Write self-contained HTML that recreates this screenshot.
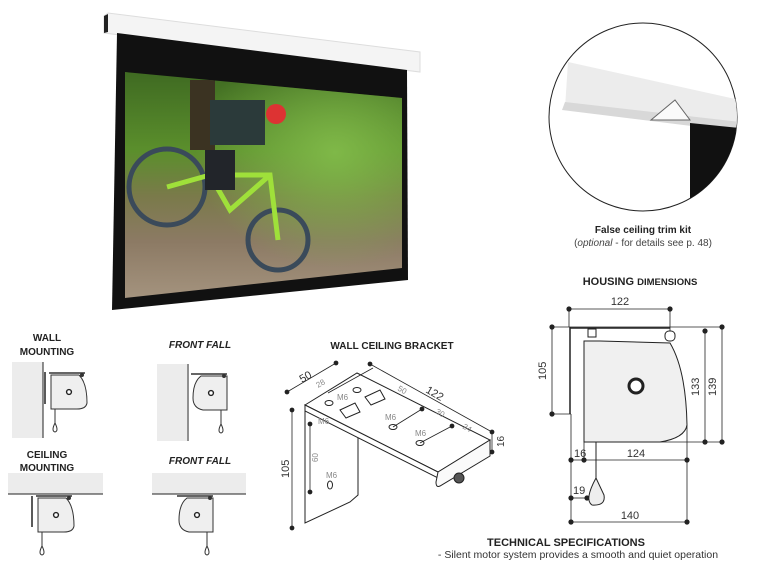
<!DOCTYPE html>
<html><head><meta charset="utf-8"><style>
body{margin:0;background:#fff;width:772px;height:579px;overflow:hidden}
svg{display:block;font-family:"Liberation Sans",sans-serif}
</style></head><body>
<svg width="772" height="579" viewBox="0 0 772 579">
<defs>
<linearGradient id="ph" x1="0" y1="0" x2="0" y2="1">
<stop offset="0" stop-color="#3f6a22"/><stop offset="0.35" stop-color="#5b8f2c"/><stop offset="0.55" stop-color="#7a7a4a"/><stop offset="0.75" stop-color="#8c7a64"/><stop offset="1" stop-color="#a4937e"/></linearGradient>
<radialGradient id="trees" cx="0.75" cy="0.35" r="0.5"><stop offset="0" stop-color="#7fb848"/><stop offset="1" stop-color="#7fb848" stop-opacity="0"/></radialGradient>
<clipPath id="circ"><circle cx="643" cy="117" r="94"/></clipPath>
<clipPath id="photo"><polygon points="125,72 402,98 402,268 125,298"/></clipPath>
<g id="hs">
<line x1="0" y1="0" x2="36" y2="0" stroke="#333" stroke-width="1.5"/>
<path d="M2,2 L30,2 Q38,10 38,30 Q37,36 28,36 L2,36 Z" fill="#efefef" stroke="#333" stroke-width="1"/>
<circle cx="20" cy="19" r="2.4" fill="#fff" stroke="#222" stroke-width="1.4"/>
<circle cx="33" cy="2" r="2" fill="#333"/>
<line x1="6" y1="36" x2="6" y2="50" stroke="#333"/>
<path d="M6,50 Q2,58 6,59 Q10,58 6,50Z" fill="#fff" stroke="#333"/>
</g>
<g id="hsF">
<line x1="0" y1="0" x2="36" y2="0" stroke="#333" stroke-width="1.5"/>
<path d="M10,2 L36,2 L36,36 L12,36 Q2,34 2,24 Q2,8 10,2 Z" fill="#efefef" stroke="#333" stroke-width="1"/>
<circle cx="20" cy="19" r="2.4" fill="#fff" stroke="#222" stroke-width="1.4"/>
<circle cx="33" cy="2" r="2" fill="#333"/>
<line x1="30" y1="36" x2="30" y2="50" stroke="#333"/>
<path d="M30,50 Q26,58 30,59 Q34,58 30,50Z" fill="#fff" stroke="#333"/>
</g>
</defs>

<!-- screen -->
<polygon points="104,16 108,13 420,52 420,72 104,33" fill="#f4f4f4" stroke="#ddd"/>
<polygon points="104,16 108,14 108,32 104,33" fill="#222"/>
<polygon points="117,33 407,70 408,280 112,310" fill="#111"/>
<polygon points="125,72 402,98 402,268 125,298" fill="url(#ph)"/>
<g clip-path="url(#photo)">
<rect x="125" y="72" width="280" height="230" fill="url(#trees)"/>
<rect x="190" y="80" width="25" height="70" fill="#3b3322"/>
<rect x="210" y="100" width="55" height="45" fill="#2b3a3a"/>
<circle cx="276" cy="114" r="10" fill="#d33"/>
<circle cx="167" cy="187" r="38" fill="none" stroke="#3a4a5a" stroke-width="5"/>
<circle cx="278" cy="240" r="30" fill="none" stroke="#3a4a5a" stroke-width="5"/>
<path d="M167,187 L210,175 L270,175 L278,240 M210,175 L230,210 L270,175" stroke="#9fe03a" stroke-width="5" fill="none"/>
<rect x="205" y="150" width="30" height="40" fill="#22252a"/>
</g>

<!-- circle detail -->
<circle cx="643" cy="117" r="94" fill="#fff" stroke="#222" stroke-width="1"/>
<g clip-path="url(#circ)">
<polygon points="568,62 740,100 740,125 565,108" fill="#ececec"/>
<polygon points="565,102 740,122 740,132 562,110" fill="#d8d8d8"/>
<polygon points="690,123 740,128 740,240 690,200" fill="#111"/>
<polygon points="651,120 675,100 690,120" fill="#fafafa" stroke="#666"/>
</g>
<text x="643" y="233" font-size="10" font-weight="bold" text-anchor="middle" fill="#222">False ceiling trim kit</text>
<text x="643" y="246" font-size="10" text-anchor="middle" fill="#444">(<tspan font-style="italic">optional</tspan> - for details see p. 48)</text>

<!-- mounting icons -->
<g font-size="10" font-weight="bold" fill="#222" text-anchor="middle">
<text x="47" y="341">WALL</text><text x="47" y="355">MOUNTING</text>
<text x="200" y="348" font-style="italic">FRONT FALL</text>
<text x="47" y="458">CEILING</text><text x="47" y="471">MOUNTING</text>
<text x="200" y="464" font-style="italic">FRONT FALL</text>
</g>
<rect x="12" y="362" width="31" height="76" fill="#ececec"/><line x1="43" y1="362" x2="43" y2="438" stroke="#222"/>
<line x1="45" y1="372" x2="45" y2="404" stroke="#222" stroke-width="1.5"/>
<use href="#hs" x="49" y="373"/>
<rect x="157" y="364" width="30" height="77" fill="#ececec"/><line x1="188" y1="364" x2="188" y2="441" stroke="#222"/>
<use href="#hsF" x="191" y="374"/>
<rect x="8" y="473" width="95" height="21" fill="#ececec"/><line x1="8" y1="494" x2="103" y2="494" stroke="#222"/>
<line x1="32" y1="496" x2="32" y2="527" stroke="#222" stroke-width="1.5"/>
<use href="#hs" x="36" y="496"/>
<rect x="152" y="473" width="94" height="21" fill="#ececec"/><line x1="152" y1="494" x2="246" y2="494" stroke="#222"/>
<use href="#hsF" x="177" y="496"/>

<!-- bracket -->
<text x="392" y="349" font-size="10" font-weight="bold" text-anchor="middle" fill="#222">WALL CEILING BRACKET</text>
<g stroke="#222" stroke-width="1" fill="#fff">
<polygon points="305,405 358,435 358,495 350,502 305,523"/>
<polygon points="305,405 357,373 490,440 438,472"/>
<polygon points="305,405 438,472 438,478 305,411"/>
<path d="M438,472 L490,440 L490,456 L440,486 Q436,488 436,482 Z" fill="#fafafa"/>
<circle cx="459" cy="478" r="5" fill="#555"/>
<ellipse cx="329" cy="403" rx="4" ry="2.5"/><ellipse cx="357" cy="390" rx="4" ry="2.5"/>
<ellipse cx="393" cy="427" rx="4" ry="2.5"/><ellipse cx="420" cy="443" rx="4" ry="2.5"/>
<ellipse cx="330" cy="485" rx="2.5" ry="4"/>
<polygon points="340,410 355,403 360,412 346,418"/><polygon points="365,397 380,390 385,399 371,405"/>
</g>
<g stroke="#222" stroke-width="0.8" fill="#222">
<line x1="292" y1="410" x2="292" y2="528"/><circle cx="292" cy="410" r="2"/><circle cx="292" cy="528" r="2"/>
<line x1="287" y1="392" x2="336" y2="363"/><circle cx="287" cy="392" r="2"/><circle cx="336" cy="363" r="2"/>
<line x1="370" y1="364" x2="492" y2="432"/><circle cx="370" cy="364" r="2"/><circle cx="492" cy="432" r="2"/>
<line x1="492" y1="432" x2="492" y2="452"/><circle cx="492" cy="452" r="2"/>
<line x1="310" y1="424" x2="310" y2="492"/><circle cx="310" cy="424" r="2"/><circle cx="310" cy="492" r="2"/>
<line x1="328" y1="393" x2="373" y2="368"/>
<line x1="393" y1="427" x2="422" y2="409"/><circle cx="422" cy="409" r="2"/>
<line x1="420" y1="443" x2="452" y2="426"/><circle cx="452" cy="426" r="2"/>
</g>
<g font-size="11" fill="#333">
<text transform="translate(289,478) rotate(-90)">105</text>
<text transform="translate(302,383) rotate(-30)">50</text>
<text transform="translate(425,392) rotate(30)">122</text>
<text transform="translate(504,447) rotate(-90)" font-size="10">16</text>
</g>
<g font-size="8" fill="#888">
<text transform="translate(318,388) rotate(-30)">28</text>
<text transform="translate(397,390) rotate(30)">50</text>
<text transform="translate(435,413) rotate(30)">30</text>
<text transform="translate(462,428) rotate(30)">24</text>
<text transform="translate(318,462) rotate(-90)">60</text>
<text x="337" y="400">M6</text><text x="385" y="420">M6</text><text x="415" y="436">M6</text><text x="326" y="478">M6</text><text x="318" y="424">M6</text>
</g>

<!-- housing dims -->
<text x="640" y="285" font-size="11" font-weight="bold" text-anchor="middle" fill="#222">HOUSING <tspan font-size="9.5">DIMENSIONS</tspan></text>
<g stroke="#222" stroke-width="0.8" fill="#222">
<line x1="569" y1="309" x2="670" y2="309"/><circle cx="569" cy="309" r="2.2"/><circle cx="670" cy="309" r="2.2"/>
<line x1="569" y1="309" x2="569" y2="327"/><line x1="670" y1="309" x2="670" y2="335"/>
<line x1="552" y1="327" x2="722" y2="327"/><circle cx="552" cy="327" r="2.2"/><circle cx="722" cy="327" r="2.2"/>
<line x1="552" y1="327" x2="552" y2="414"/><circle cx="552" cy="414" r="2.2"/><line x1="552" y1="414" x2="571" y2="414"/>
<line x1="705" y1="331" x2="705" y2="442"/><circle cx="705" cy="331" r="2.2"/><circle cx="705" cy="442" r="2.2"/>
<line x1="722" y1="327" x2="722" y2="442"/><circle cx="722" cy="442" r="2.2"/>
<line x1="584" y1="442" x2="722" y2="442"/>
<line x1="571" y1="460" x2="687" y2="460"/><circle cx="571" cy="460" r="2.2"/><circle cx="584" cy="460" r="2.2"/><circle cx="687" cy="460" r="2.2"/>
<line x1="571" y1="414" x2="571" y2="522"/><line x1="584" y1="442" x2="584" y2="460"/>
<line x1="687" y1="425" x2="687" y2="522"/>
<line x1="571" y1="522" x2="687" y2="522"/><circle cx="571" cy="522" r="2.2"/><circle cx="687" cy="522" r="2.2"/>
<line x1="571" y1="498" x2="587" y2="498"/><circle cx="571" cy="498" r="2.2"/><circle cx="587" cy="498" r="2.2"/>
</g>
<g stroke="#222" stroke-width="1">
<path d="M570,327 L570,414 M570,328 L670,328" fill="none" stroke-width="1.5"/>
<path d="M584,341 L584,442 L660,442 Q685,438 687,425 Q686,370 670,343 L600,341 Z" fill="#f0f0f0"/>
<circle cx="636" cy="386" r="7" fill="#fff" stroke-width="3"/>
<rect x="588" y="329" width="8" height="8" fill="#fff"/><rect x="665" y="331" width="10" height="10" rx="4" fill="#fff"/>
<line x1="596" y1="442" x2="596" y2="478"/>
<path d="M596,478 Q584,500 592,505 Q606,506 604,495 Z" fill="#eee"/>
</g>
<g font-size="11" fill="#333">
<text x="620" y="305" text-anchor="middle">122</text>
<text transform="translate(546,380) rotate(-90)">105</text>
<text transform="translate(699,396) rotate(-90)">133</text>
<text transform="translate(716,396) rotate(-90)">139</text>
<text x="574" y="457">16</text>
<text x="636" y="457" text-anchor="middle">124</text>
<text x="573" y="494">19</text>
<text x="630" y="519" text-anchor="middle">140</text>
</g>
<text x="566" y="546" font-size="11" font-weight="bold" text-anchor="middle" fill="#222">TECHNICAL SPECIFICATIONS</text>
<text x="578" y="558" font-size="10.5" text-anchor="middle" fill="#333">- Silent motor system provides a smooth and quiet operation</text>
</svg>
</body></html>
